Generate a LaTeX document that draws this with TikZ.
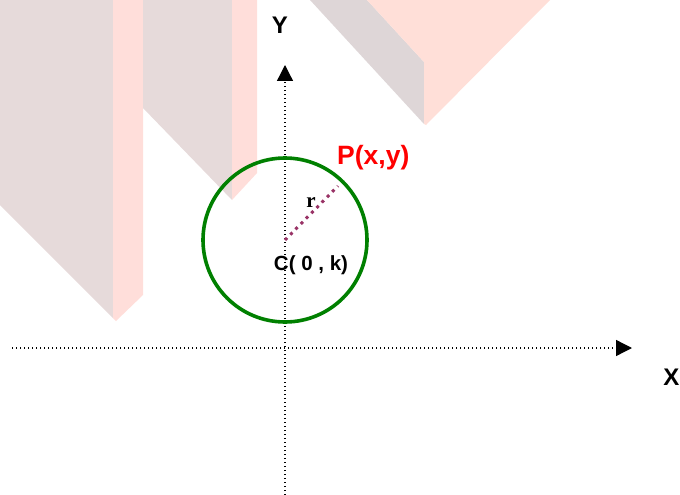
\documentclass[tikz,border=0pt]{standalone}
\usepackage{fontspec}
\setmainfont{Liberation Sans}
\newfontfamily\serifr{Liberation Serif}
\usetikzlibrary{arrows.meta}
\definecolor{wmgrey}{HTML}{E6DADA}
\definecolor{wmpink}{HTML}{FFDEDA}
\definecolor{wmgreyb}{HTML}{DED6D7}
\definecolor{wmpinkb}{HTML}{FFDFD8}
\definecolor{circgreen}{HTML}{008000}
\definecolor{radcol}{HTML}{993366}
\tikzset{
  axis/.style={line width=1.3pt, dash pattern=on 1.3pt off 2.7pt,
    -{Triangle[length=16pt,width=16pt]}},
  axislabel/.style={font=\fontsize{24}{28}\selectfont\bfseries, inner sep=0pt},
  radius line/.style={radcol, line width=3pt, dash pattern=on 3pt off 4.5pt},
}
\begin{document}
\begin{tikzpicture}[x=1pt,y=-1pt]
\useasboundingbox (0,0) rectangle (680,495);
\clip (0,0) rectangle (680,495);
% watermark shapes
\fill[wmgrey] (0,0) -- (113,0) -- (113,318) -- (0,205) -- cycle;
\fill[wmpink] (113,0) -- (143,0) -- (143,295) -- (116,321) -- (113,318) -- cycle;
\fill[wmgrey] (143,0) -- (232,0) -- (232,200) -- (143,108) -- cycle;
\fill[wmpink] (232,0) -- (257,0) -- (257,173) -- (232,200) -- cycle;
\fill[wmgreyb] (310,0) -- (367,0) -- (424,62) -- (424,124) -- cycle;
\fill[wmpinkb] (367,0) -- (550,0) -- (426,125) -- (424,124) -- (424,62) -- cycle;
% axes
\coordinate (ybot) at (285,495);
\coordinate (ytop) at (285,65);
\coordinate (xleft) at (12,348);
\coordinate (xright) at (632,348);
\draw[axis] (ybot) -- (ytop);
\draw[axis] (xleft) -- (xright);
\node[axislabel] (ylab) at (280,25) {Y};
\node[axislabel, anchor=east] (xlab) at (679.5,377) {X};
% circle
\coordinate (c) at (285,240);
\draw[circgreen, line width=3.6pt] (c) circle[radius=82];
\coordinate (p) at (338,186);
\draw[radius line] (c) -- (p);
\node[font=\serifr\fontsize{21}{24}\selectfont\bfseries, inner sep=0pt] (r) at (311,203) {r};
\node[red, font=\fontsize{26.5}{30}\selectfont\bfseries, inner sep=0pt, anchor=west] (plab) at (337,158) {P(x,y)};
\node[font=\fontsize{20.5}{24}\selectfont\bfseries, inner sep=0pt] (clab) at (311,265) {C( 0 , k)};
\end{tikzpicture}
\end{document}
